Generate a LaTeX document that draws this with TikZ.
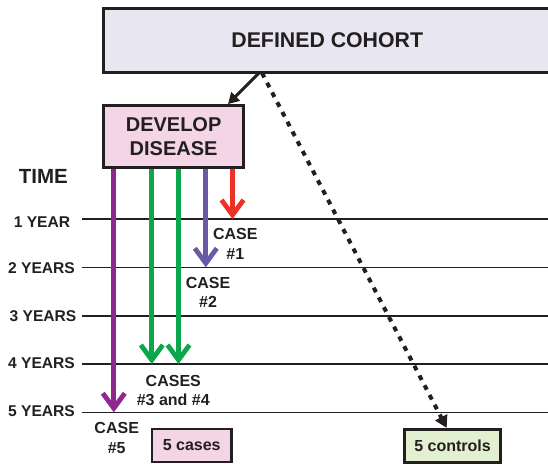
\documentclass[tikz,border=0pt]{standalone}
\usepackage{fontspec}
\setmainfont{Liberation Sans}
\usepackage{tikz}
\usetikzlibrary{arrows.meta, positioning}
\definecolor{InkBlack}{RGB}{35, 31, 32}
\definecolor{CohortLilac}{RGB}{232, 230, 241}
\definecolor{DiseasePink}{RGB}{243, 213, 229}
\definecolor{ControlGreen}{RGB}{226, 239, 208}
\definecolor{CasePurple}{RGB}{142, 39, 143}
\definecolor{CaseGreen}{RGB}{12, 166, 75}
\definecolor{CaseViolet}{RGB}{108, 89, 166}
\definecolor{CaseRed}{RGB}{238, 49, 36}

\begin{document}
\begin{tikzpicture}[
            x=1pt, y=-1pt,
            box/.style={draw=InkBlack, line width=2.7pt, align=center, inner sep=0pt, text=InkBlack, font=\bfseries},
            cohort/.style={box, fill=CohortLilac, minimum width=447.5pt, minimum height=63.6pt, font=\fontsize{21.3pt}{25pt}\selectfont\bfseries},
            disease/.style={box, fill=DiseasePink, minimum width=140.2pt, minimum height=62.3pt, font=\fontsize{20pt}{24pt}\selectfont\bfseries},
            tally/.style={box, minimum height=33pt, font=\fontsize{16pt}{19pt}\selectfont\bfseries},
            yearlbl/.style={text=InkBlack, align=center, inner sep=0pt, font=\fontsize{15.6pt}{18pt}\selectfont\bfseries},
            caselbl/.style={yearlbl, font=\fontsize{16pt}{19.5pt}\selectfont\bfseries},
            yearline/.style={draw=InkBlack, line width=1.6pt},
            case/.style={line width=4.8pt, -{Straight Barb[length=15pt, width=22pt]}}
        ]
        \useasboundingbox (0,0) rectangle (548,463);

        % --- cohort and disease boxes ---
        \node[cohort] (cohort) at (327.25, 40.5) {DEFINED COHORT};
        \node[disease] (develop) at (173.6, 136.6) {DEVELOP\\DISEASE};

        % --- time axis ---
        \node[yearlbl, font=\fontsize{20.5pt}{24pt}\selectfont\bfseries] (time) at (43.3, 176.7) {TIME};
        \node[yearlbl] (yr1) at (42, 222) {1 YEAR};
        \node[yearlbl] (yr2) at (41.5, 268.5) {2 YEARS};
        \node[yearlbl] (yr3) at (43, 316.5) {3 YEARS};
        \node[yearlbl] (yr4) at (41.5, 363) {4 YEARS};
        \node[yearlbl] (yr5) at (41.5, 411) {5 YEARS};

        \coordinate (l1) at (82, 219);
        \coordinate (l2) at (82, 267.3);
        \coordinate (l3) at (82, 315.7);
        \coordinate (l4) at (82, 364);
        \coordinate (l5) at (82, 412.3);
        \draw[yearline] (l1) -- (548, 219);
        \draw[yearline] (l2) -- (548, 267.3);
        \draw[yearline] (l3) -- (548, 315.7);
        \draw[yearline] (l4) -- (548, 364);
        \draw[yearline] (l5) -- (548, 412.3);

        % --- cases reaching each year ---
        \coordinate (c1) at (232.5, 219);
        \coordinate (c2) at (205.8, 267.3);
        \coordinate (c3) at (151.8, 364);
        \coordinate (c4) at (178.5, 364);
        \coordinate (c5) at (113.8, 412.3);
        \draw[case, CaseRed] (c1 |- develop.south) -- (c1);
        \draw[case, CaseViolet] (c2 |- develop.south) -- (c2);
        \draw[case, CaseGreen] (c3 |- develop.south) -- (c3);
        \draw[case, CaseGreen] (c4 |- develop.south) -- (c4);
        \draw[case, CasePurple] (c5 |- develop.south) -- (c5);

        \node[caselbl] (case1) at (235.3, 244) {CASE\\\#1};
        \node[caselbl] (case2) at (208, 292.5) {CASE\\\#2};
        \node[caselbl] (case34) at (173.3, 390.3) {CASES\\\#3 and \#4};
        \node[caselbl] (case5) at (116.7, 438) {CASE\\\#5};

        % --- totals ---
        \node[tally, fill=DiseasePink, minimum width=79.4pt] (cases) at (191.7, 445.5) {5 cases};
        \node[tally, fill=ControlGreen, minimum width=96pt] (controls) at (452.5, 445.8) {5 controls};

        % --- links out of the cohort ---
        \coordinate (split) at (259, 73);
        \draw[line width=3pt, InkBlack, -{Triangle[length=11pt, width=12pt]}] (split) -- (develop.north -| 228, 0);
        \draw[line width=4pt, InkBlack, dash pattern=on 5pt off 6pt, -{Triangle[length=12pt, width=13pt]}] (split -| 262, 0) -- (controls.north -| 446.7, 0);

        \end{tikzpicture}
\end{document}
